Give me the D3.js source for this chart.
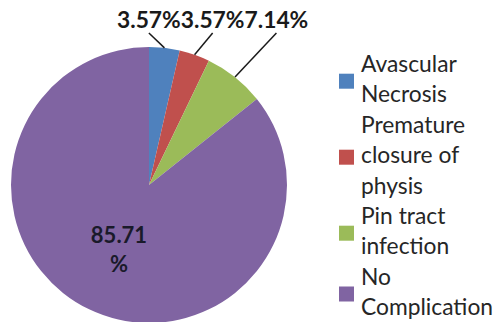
<!DOCTYPE html>
<html>
<head>
<meta charset="utf-8">
<script src="https://cdn.jsdelivr.net/npm/d3@7"></script>
<style>
  body { margin: 0; background: #fff; }
  svg { display: block; }
</style>
</head>
<body>
<div id="chart"></div>
<script>
// data
const categories = ['Avascular Necrosis', 'Premature closure of physis', 'Pin tract infection', 'No Complication'];
const legendLines = [['Avascular', 'Necrosis'], ['Premature', 'closure of', 'physis'], ['Pin tract', 'infection'], ['No', 'Complication']];
const values = [3.57, 3.57, 7.14, 85.71];
const labels = ['3.57%', '3.57%', '7.14%', '85.71 %'];
const colors = ['#4f81bd', '#c0504d', '#9bbb59', '#8064a2'];

const W = 497, H = 322;
const cx = 149, cy = 185, r = 138;

const svg = d3.select('#chart').append('svg')
    .attr('width', W)
    .attr('height', H);

const pie = d3.pie().sort(null).value(d => d);
const arcs = pie(values);
const arc = d3.arc().innerRadius(0).outerRadius(r);

const g = svg.append('g').attr('transform', `translate(${cx},${cy})`);

g.selectAll('path.slice')
    .data(arcs)
    .join('path')
    .attr('class', 'slice')
    .attr('d', arc)
    .attr('fill', (d, i) => colors[i]);

// small slices: labels in a row above the pie with leader lines
let x = 117;
arcs.forEach((d, i) => {
    if (i === 3) return;
    const t = svg.append('text')
        .attr('x', x)
        .attr('y', 28)
        .attr('fill', '#1a1a1a')
        .style('font-family', 'Lato, sans-serif')
        .style('font-weight', 'bold')
        .style('font-size', '22.8px')
        .text(labels[i]);
    const w = t.node().getComputedTextLength();
    const a = (d.startAngle + d.endAngle) / 2;
    svg.append('line')
        .attr('x1', x + w / 2)
        .attr('y1', 33)
        .attr('x2', cx + r * Math.sin(a))
        .attr('y2', cy - r * Math.cos(a))
        .attr('stroke', '#1a1a1a')
        .attr('stroke-width', 1.5);
    x += w;
});

// big slice label inside
const big = labels[3].split(' ');
svg.append('text')
    .attr('text-anchor', 'middle')
    .attr('fill', '#1a1a2a')
    .style('font-family', 'Lato, sans-serif')
    .style('font-weight', 'bold')
    .style('font-size', '22px')
    .selectAll('tspan')
    .data(big)
    .join('tspan')
    .attr('x', 119)
    .attr('y', (d, i) => 243 + i * 29)
    .text(d => d);

// legend
const lineH = 30.4;
let line = 0;
const leg = svg.append('g');
legendLines.forEach((lines, i) => {
    const first = 72 + line * lineH;
    const mid = first + (lines.length - 1) * lineH / 2;
    leg.append('rect')
        .attr('x', 339)
        .attr('y', mid - 6 - 7.5)
        .attr('width', 15)
        .attr('height', 15)
        .attr('fill', colors[i]);
    lines.forEach((s, j) => {
        leg.append('text')
            .attr('x', 361)
            .attr('y', first + j * lineH)
            .attr('fill', '#262626')
            .style('font-family', 'Lato, sans-serif')
            .style('font-size', '22.8px')
            .text(s);
    });
    line += lines.length;
});
</script>
</body>
</html>
